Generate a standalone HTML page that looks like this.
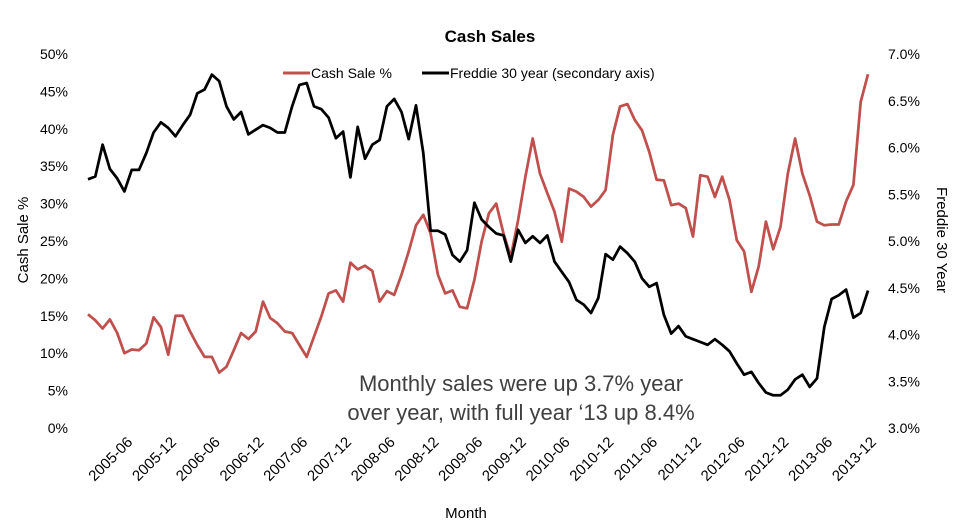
<!DOCTYPE html>
<html><head><meta charset="utf-8"><style>
body{margin:0;background:#fff;font-family:"Liberation Sans",sans-serif}
svg text{font-family:"Liberation Sans",sans-serif}
</style></head><body>
<svg id="chart" width="965" height="527" viewBox="0 0 965 527" xmlns="http://www.w3.org/2000/svg">
<text x="490" y="42" text-anchor="middle" font-size="17" font-weight="bold">Cash Sales</text>
<g>
<line x1="283" y1="73" x2="310" y2="73" stroke="#c0504d" stroke-width="3"/>
<text x="311" y="78" font-size="14">Cash Sale %</text>
<line x1="422" y1="73" x2="449" y2="73" stroke="#000" stroke-width="3"/>
<text x="450" y="78" font-size="14">Freddie 30 year (secondary axis)</text>
</g>
<text transform="translate(28,240) rotate(-90)" text-anchor="middle" font-size="15">Cash Sale %</text>
<text transform="translate(937,240) rotate(90)" text-anchor="middle" font-size="15">Freddie 30 Year</text>
<text x="466" y="518" text-anchor="middle" font-size="15">Month</text>
<g id="yl"></g>
<g id="yr"></g>
<g id="xl"></g>
<g id="series"></g>
<text x="521" y="391" text-anchor="middle" font-size="22" fill="#404040">Monthly sales were up 3.7% year</text>
<text x="521" y="420" text-anchor="middle" font-size="22" fill="#404040">over year, with full year ‘13 up 8.4%</text>
</svg>
<script>
const startYear = 2005, startMonth = 1;
const cashSale = [15.2,14.4,13.3,14.5,12.7,10.0,10.5,10.4,11.3,14.8,13.5,9.8,15.0,15.0,12.9,11.1,9.5,9.5,7.4,8.2,10.4,12.7,11.9,12.9,16.9,14.7,14.0,12.9,12.7,11.1,9.5,12.2,14.9,18.0,18.4,16.9,22.1,21.2,21.7,
21.0,16.9,18.3,17.8,20.5,23.6,27.1,28.5,26.0,20.5,18.0,18.4,16.2,16.0,19.8,24.9,28.7,30.0,26.0,22.9,27.8,33.6,38.7,34.0,31.4,28.9,24.9,32.0,31.6,30.9,29.6,30.5,31.8,39.2,43.0,43.3,41.2,39.8,
36.9,33.2,33.1,29.8,30.0,29.4,25.6,33.8,33.6,30.9,33.6,30.5,25.1,23.6,18.2,21.6,27.6,23.9,26.9,34.0,38.7,34.0,31.1,27.6,27.1,27.2,27.2,30.3,32.5,43.6,47.3];
const freddie = [5.66,5.69,6.03,5.77,5.67,5.53,5.76,5.76,5.94,6.16,6.27,6.21,6.12,6.24,6.35,6.58,6.62,6.78,6.71,6.44,6.30,6.38,6.14,6.19,6.24,6.21,6.16,6.16,6.44,6.67,6.69,6.44,6.41,6.32,6.10,6.17,5.68,6.22,5.88,
6.03,6.08,6.44,6.52,6.38,6.09,6.45,5.94,5.11,5.11,5.07,4.85,4.78,4.90,5.41,5.23,5.15,5.08,5.06,4.78,5.12,4.98,5.05,4.98,5.06,4.78,4.67,4.56,4.37,4.32,4.23,4.39,4.86,4.80,4.94,4.87,4.78,4.60,
4.51,4.55,4.21,4.01,4.09,3.98,3.95,3.92,3.89,3.95,3.89,3.82,3.69,3.57,3.60,3.48,3.38,3.35,3.35,3.41,3.52,3.57,3.44,3.53,4.08,4.38,4.42,4.48,4.18,4.23,4.47];
const leftTicks = [0,5,10,15,20,25,30,35,40,45,50];
const rightTicks = [3.0,3.5,4.0,4.5,5.0,5.5,6.0,6.5,7.0];

const NS = "http://www.w3.org/2000/svg";
const x0 = 88, x1 = 868, yBot = 428, yTop = 54;
const n = cashSale.length;
function xS(i){ return x0 + (x1 - x0) * i / (n - 1); }
function yL(v){ return yBot - (v - 0) / 50 * (yBot - yTop); }
function yR(v){ return yBot - (v - 3) / 4 * (yBot - yTop); }
function mk(tag, attrs, parent){ const e = document.createElementNS(NS, tag); for (const k in attrs) e.setAttribute(k, attrs[k]); parent.appendChild(e); return e; }

const gl = document.getElementById('yl');
leftTicks.forEach(v => {
  const t = mk('text', {x: 68, y: yL(v) + 5, 'text-anchor': 'end', 'font-size': 14}, gl);
  
  
  t.textContent = v + '%';
});
const gr = document.getElementById('yr');
rightTicks.forEach(v => {
  const t = mk('text', {x: 888, y: yR(v) + 5, 'font-size': 14}, gr);
  
  
  t.textContent = v.toFixed(1) + '%';
});
const gx = document.getElementById('xl');
for (let i = 0; i < n; i++) {
  const m = startMonth - 1 + i, yr = startYear + Math.floor(m / 12), mo = m % 12 + 1;
  if (mo !== 6 && mo !== 12) continue;
  const lbl = yr + '-' + (mo < 10 ? '0' + mo : mo);
  const t = mk('text', {x: 0, y: 0, 'text-anchor': 'end', 'font-size': 15, transform: 'translate(' + (xS(i) + 9) + ',443) rotate(-45)'}, gx);
  
  
  t.textContent = lbl;
}
const gs = document.getElementById('series');
const p1 = mk('polyline', {points: cashSale.map((v, i) => xS(i).toFixed(1) + ',' + yL(v).toFixed(1)).join(' '), fill: 'none', stroke: '#c0504d', 'stroke-width': 2.75, 'stroke-linejoin': 'round'}, gs);


const p2 = mk('polyline', {points: freddie.map((v, i) => xS(i).toFixed(1) + ',' + yR(v).toFixed(1)).join(' '), fill: 'none', stroke: '#000', 'stroke-width': 2.75, 'stroke-linejoin': 'round'}, gs);


</script>
</body></html>
